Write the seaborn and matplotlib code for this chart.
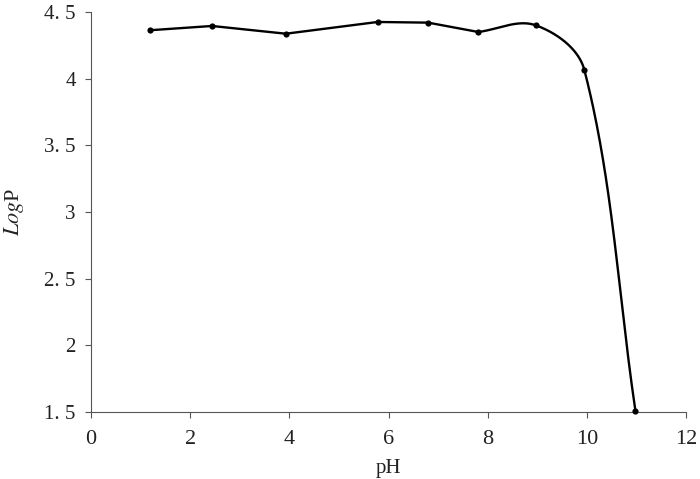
import numpy as np
import pandas as pd
import matplotlib
matplotlib.use("Agg")
import matplotlib.pyplot as plt
import seaborn as sns

# ---- data ----
ph = [1.19, 2.44, 3.93, 5.78, 6.80, 7.81, 8.97, 9.95, 10.98]
logp = [4.363, 4.395, 4.337, 4.425, 4.42, 4.35, 4.40, 4.065, 1.51]
x_ticks = [0, 2, 4, 6, 8, 10, 12]
y_ticks = [1.5, 2.0, 2.5, 3.0, 3.5, 4.0, 4.5]
y_ticklabels = ["1. 5", "2", "2. 5", "3", "3. 5", "4", "4. 5"]
n_straight = 6  # first points joined by straight segments, rest smoothed

sns.set_style("white")
plt.rcParams["font.family"] = ["Liberation Serif", "DejaVu Serif"]
plt.rcParams["mathtext.fontset"] = "stix"

fig = plt.figure(figsize=(7.0, 4.79), dpi=100)
ax = fig.add_axes([0.13, 0.14, 0.85, 0.835])
ax.set_xlim(0, 12)
ax.set_ylim(1.5, 4.5)

df = pd.DataFrame({"pH": ph, "LogP": logp})

# straight part
sns.lineplot(data=df.iloc[:n_straight], x="pH", y="LogP", ax=ax, color="black",
             linewidth=1.7, sort=False, estimator=None)

# smoothed part (bezier in display-proportional space)
sx = 49.6
sy = 133.3
pts = np.array([[p * sx, v * sy] for p, v in zip(ph[n_straight - 1:], logp[n_straight - 1:])])
n = len(pts)
tang = []
for i in range(n):
    if i == 0:
        d = pts[1] - pts[0]
    elif i == n - 1:
        d = pts[-1] - pts[-2]
    else:
        d = pts[i + 1] - pts[i - 1]
    tang.append(d / np.linalg.norm(d))
curve = []
t = np.linspace(0, 1, 80)[:, None]
for i in range(n - 1):
    L = np.linalg.norm(pts[i + 1] - pts[i]) / 3
    p0 = pts[i]
    p3 = pts[i + 1]
    p1 = p0 + L * tang[i]
    p2 = p3 - L * tang[i + 1]
    seg = ((1 - t) ** 3) * p0 + 3 * ((1 - t) ** 2) * t * p1 + 3 * (1 - t) * t ** 2 * p2 + t ** 3 * p3
    curve.append(seg)
curve = np.vstack(curve)
ax.plot(curve[:, 0] / sx, curve[:, 1] / sy, color="black", linewidth=1.7,
        solid_capstyle="round", clip_on=False)

sns.scatterplot(data=df, x="pH", y="LogP", ax=ax, color="black", s=20,
                edgecolor="black", linewidth=0, clip_on=False, zorder=5)

ax.set_xticks(x_ticks)
ax.set_xticklabels([str(v) for v in x_ticks])
ax.set_yticks(y_ticks)
ax.set_yticklabels(y_ticklabels)
ax.tick_params(axis="both", which="major", direction="out", length=4, width=0.8,
               color="#555555", labelcolor="#222222", bottom=True, left=True)
ax.tick_params(axis="x", labelsize=16, pad=9)
ax.tick_params(axis="y", labelsize=15, pad=7)

for side in ["top", "right"]:
    ax.spines[side].set_visible(False)
for side in ["left", "bottom"]:
    ax.spines[side].set_color("#555555")
    ax.spines[side].set_linewidth(0.8)

ax.set_xlabel("pH", fontsize=15, color="#222222", labelpad=7)
ax.set_ylabel(r"$\mathit{Log}$P", fontsize=16, color="#222222", labelpad=13)

fig.savefig("out.png", dpi=100, facecolor="white")
